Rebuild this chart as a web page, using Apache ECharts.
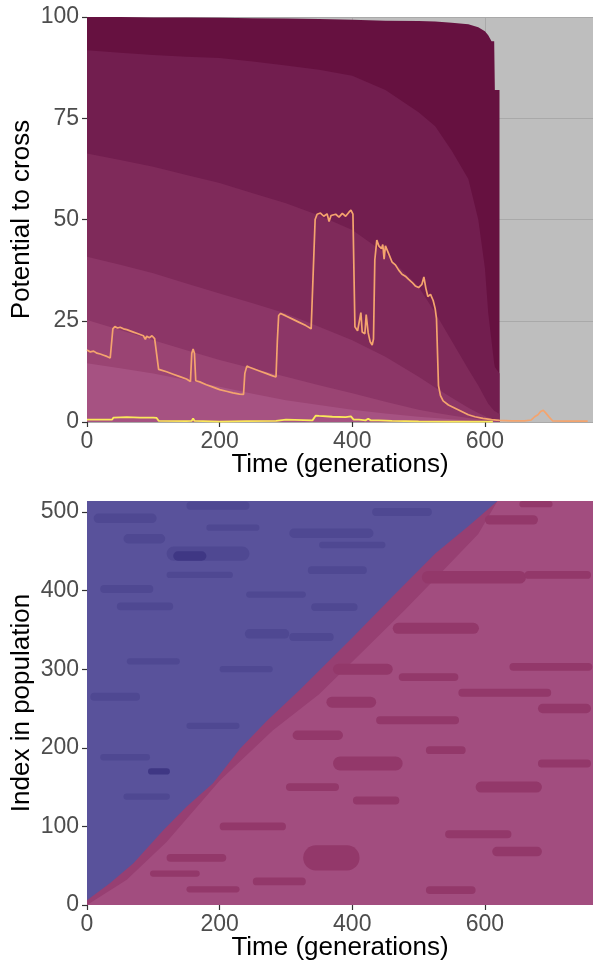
<!DOCTYPE html>
<html><head><meta charset="utf-8">
<script src="https://cdn.jsdelivr.net/npm/echarts@6/dist/echarts.min.js"></script>
<style>html,body{margin:0;padding:0;background:#fff}#c{width:593px;height:969px}</style>
</head><body><div id="c"></div>
<script>
// ---------- top panel data ----------
const bandGens = [0, 50, 100, 150, 200, 250, 300, 350, 400, 450, 500, 525, 550, 575, 590, 600, 605, 610, 614, 615, 622];
const bandTop = [100, 100, 99.9, 99.9, 99.8, 99.7, 99.6, 99.5, 99.3, 99.1, 99.0, 98.9, 98.6, 98.2, 97.5, 96.5, 95.5, 94, 94, 82, 82];
const band1 = [91.8, 91.2, 90.6, 90.2, 89.9, 89.0, 88.0, 87.0, 85.5, 82.0, 76.5, 73.0, 67.0, 60.0, 50.0, 38.0, 27.0, 20.0, 14.5, 13.6, 12.0];
const band2 = [66.3, 64.7, 63.0, 61.0, 59.0, 56.5, 54.0, 51.0, 47.4, 41.6, 33.4, 27.0, 20.0, 13.0, 9.0, 6.0, 4.5, 3.5, 2.8, 2.6, 2.0];
const band3 = [40.8, 38.8, 36.7, 34.2, 31.7, 29.3, 26.8, 23.5, 20.2, 16.1, 11.2, 8.5, 6.0, 3.5, 2.2, 1.5, 1.1, 0.8, 0.6, 0.6, 0.5];
const band4 = [25.2, 22.7, 20.2, 17.7, 15.3, 13.2, 11.2, 9.1, 7.1, 5.0, 3.0, 2.3, 1.6, 1.0, 0.7, 0.5, 0.4, 0.3, 0.2, 0.2, 0.2];
const band5 = [14.5, 13.3, 12.0, 10.4, 8.7, 7.0, 5.4, 4.2, 3.0, 2.1, 1.3, 1.0, 0.7, 0.4, 0.2, 0.1, 0.1, 0.1, 0.1, 0.1, 0.1];
const bandColors = ['#661140', '#721e4f', '#7f2a5a', '#8c3667', '#9a4473', '#a65282'];

const orangeGen = [0,5,10,15,20,25,30,35,38,39,42,46,50,55,60,65,70,75,80,85,88,90,94,98,102,105,108,112,120,130,140,150,156,158,160,162,164,170,180,190,200,210,220,230,236,238,241,245,250,260,270,280,285,287,289,292,300,310,320,330,338,341,344,347,352,357,362,365,368,375,380,385,390,395,398,401,404,408,411,413,415,419,421,424,427,430,432,434,437,440,444,446,448,450,455,460,465,470,475,480,485,490,495,500,505,508,511,514,518,522,525,527,530,533,537,545,555,565,575,585,597,610,622,640,660,670,675,680,684,688,692,697,702,720,740,755];
const orangeVal = [17.8,17.3,17.5,17.0,16.8,16.5,16.2,15.8,15.7,23.0,23.6,23.2,23.4,23.0,22.8,22.5,22.2,21.9,21.6,21.3,20.4,21.2,20.8,21.3,20.6,20.2,13.0,12.8,12.4,11.8,11.2,10.6,10.0,17.0,18.0,17.0,10.2,9.9,9.2,8.6,8.0,7.6,7.2,6.9,6.8,12.0,13.8,13.5,13.2,12.6,12.0,11.4,11.1,20.0,26.3,26.8,26.2,25.4,24.6,23.8,23.0,22.8,50.0,51.3,51.6,50.8,51.4,49.5,51.0,51.3,50.6,51.5,50.8,51.8,52.3,51.3,23.5,22.5,22.8,27.0,22.2,21.8,26.5,22.0,19.8,19.0,20.5,40.0,44.9,43.5,42.8,43.8,40.2,43.5,41.5,39.5,38.8,37.5,36.5,36.0,35.2,34.5,33.6,33.2,34.0,35.8,33.0,31.0,31.5,30.0,28.0,25.5,9.0,6.5,5.2,4.2,3.4,2.6,1.8,1.3,0.9,0.6,0.4,0.3,0.3,0.5,1.3,1.8,2.6,2.9,2.2,1.2,0.3,0.2,0.2,0.2];
const yellowGen = [0,38,40,60,80,100,105,108,150,158,160,162,200,240,285,288,300,340,345,350,370,390,398,402,410,420,424,428,440,460,500,550,600,612];
const yellowVal = [0.6,0.6,1.1,1.2,1.1,1.1,1.0,0.3,0.2,0.3,0.9,0.3,0.1,0.2,0.3,0.7,0.6,0.4,1.6,1.5,1.3,1.2,1.4,0.6,0.6,0.4,0.8,0.4,0.4,0.3,0.15,0.1,0.1,0.1];

const xTicks = [0, 200, 400, 600];
const yTicksTop = [0, 25, 50, 75, 100];
const yTicksBottom = [0, 100, 200, 300, 400, 500];

// ---------- bottom panel data ----------
const boundaryGen = [0, 35, 70, 115, 150, 190, 231, 271, 321, 400, 460, 526, 575, 619, 763];
const boundaryIdx = [6, 28, 53, 95, 125, 155, 199, 234, 274, 340, 392, 448, 482, 514, 514];
const stripeGen = [0, 60, 120, 200, 280, 350, 420, 480, 540, 590, 619, 763];
const stripeIdx = [0, 32, 80, 158, 222, 268, 326, 376, 428, 472, 514, 514];
// patches: [startGen, endGen, centreIndex, halfHeight]
const bluePatches = [[120,245,447,9],[10,105,492,6],[55,118,466,6],[150,245,508,5],[20,100,402,5],[45,130,380,5],[238,305,345,6],[120,220,420,4],[5,80,265,5],[55,125,138,4],[20,95,188,4],[305,432,473,6],[333,422,426,5],[338,408,379,5],[350,450,458,4],[305,372,341,5],[430,520,500,5],[200,280,300,4],[150,230,228,4],[60,140,310,4],[240,330,395,4],[180,260,480,4]];
const blueDark = [[130,180,444,6],[92,125,170,4]];
const pinkPatches = [[120,210,60,5],[95,170,40,4],[371,461,300,7],[461,591,352,7],[505,662,417,8],[600,680,490,6],[652,702,510,4],[637,762,303,5],[361,436,258,7],[436,561,235,5],[371,476,180,9],[511,571,197,5],[326,411,60,16],[586,686,150,7],[611,686,68,6],[511,586,19,5],[401,471,133,5],[310,386,216,6],[200,300,100,5],[250,330,30,5],[150,230,20,4],[660,760,420,5],[680,760,250,6],[540,640,90,5],[560,700,270,5],[470,560,290,5],[300,380,150,5],[680,760,180,5]];

const zip = (a, b) => a.map((v, i) => [v, b[i]]);
const FONT = 'Liberation Sans, Arial, Helvetica, sans-serif';

function patchSeries(data, color, gi) {
  return {
    type: 'custom', xAxisIndex: gi, yAxisIndex: gi, data: data, clip: true, z: 5,
    encode: { x: [0, 1], y: 2 }, silent: true,
    renderItem: function (params, api) {
      const t0 = api.value(0), t1 = api.value(1), c = api.value(2), h = api.value(3);
      const p0 = api.coord([t0, c + h]);
      const p1 = api.coord([t1, c - h]);
      const w = p1[0] - p0[0], ht = p1[1] - p0[1];
      return { type: 'rect', shape: { x: p0[0], y: p0[1], width: w, height: ht, r: ht / 2 }, style: { fill: color } };
    }
  };
}

function xAxisDef(gi) {
  return {
    type: 'value', gridIndex: gi, min: 0, max: 763, interval: 100,
    name: 'Time (generations)', nameLocation: 'middle', nameGap: 30, nameMoveOverlap: false,
    nameTextStyle: { fontFamily: FONT, fontSize: 26, color: '#000' },
    axisLine: { show: false },
    axisTick: { show: true, length: 5, customValues: xTicks, lineStyle: { color: '#333', width: 1.2 } },
    axisLabel: { customValues: xTicks, fontFamily: FONT, fontSize: 23, color: '#4d4d4d', margin: 8 },
    splitLine: { show: gi === 0, lineStyle: { color: '#a9a9a9', width: 1 } },
    minorTick: { show: false },
    minorSplitLine: { show: false }
  };
}

function yAxisDef(gi, name, max, interval, ticks, grid) {
  return {
    type: 'value', gridIndex: gi, min: 0, max: max, interval: interval,
    name: name, nameLocation: 'middle', nameGap: 52, nameMoveOverlap: false,
    nameTextStyle: { fontFamily: FONT, fontSize: 26, color: '#000' },
    axisLine: { show: false },
    axisTick: { show: true, length: 5, customValues: ticks, lineStyle: { color: '#333', width: 1.2 } },
    axisLabel: { customValues: ticks, fontFamily: FONT, fontSize: 23, color: '#4d4d4d', margin: 8 },
    splitLine: { show: grid, lineStyle: { color: '#a9a9a9', width: 1 } }
  };
}

const bandArrays = [bandTop, band1, band2, band3, band4, band5];
const series = [];
bandArrays.forEach((arr, i) => {
  series.push({
    type: 'line', xAxisIndex: 0, yAxisIndex: 0, data: zip(bandGens, arr),
    showSymbol: false, symbol: 'none', silent: true,
    lineStyle: { width: 0 }, areaStyle: { color: bandColors[i], opacity: 1, origin: 'start' },
    z: 2 + i * 0.01
  });
});
series.push({ type: 'line', xAxisIndex: 0, yAxisIndex: 0, data: zip(orangeGen, orangeVal), showSymbol: false, symbol: 'none', lineStyle: { color: '#f4a46e', width: 1.7 }, z: 4 });
series.push({ type: 'line', xAxisIndex: 0, yAxisIndex: 0, data: zip(yellowGen, yellowVal), showSymbol: false, symbol: 'none', lineStyle: { color: '#fbe95a', width: 1.8 }, z: 4.1 });

series.push({ type: 'line', xAxisIndex: 1, yAxisIndex: 1, data: zip(boundaryGen, boundaryIdx), showSymbol: false, symbol: 'none', silent: true, lineStyle: { width: 0 }, areaStyle: { color: '#973f72', opacity: 1, origin: 'start' }, z: 2 });
series.push({ type: 'line', xAxisIndex: 1, yAxisIndex: 1, data: zip(stripeGen, stripeIdx), showSymbol: false, symbol: 'none', silent: true, lineStyle: { width: 0 }, areaStyle: { color: '#a24d7f', opacity: 1, origin: 'start' }, z: 2.1 });
series.push(patchSeries(bluePatches, '#4f4892', 1));
series.push(patchSeries(blueDark, '#3f3784', 1));
series.push(patchSeries(pinkPatches, '#93386a', 1));

const option = {
  animation: false,
  backgroundColor: '#ffffff',
  grid: [
    { left: 87, top: 17, width: 506, height: 405, show: true, backgroundColor: '#bebebe', borderWidth: 0, outerBoundsMode: 'none', containLabel: false },
    { left: 87, top: 501, width: 506, height: 404, show: true, backgroundColor: '#59529b', borderWidth: 0, outerBoundsMode: 'none', containLabel: false }
  ],
  xAxis: [xAxisDef(0), xAxisDef(1)],
  yAxis: [
    yAxisDef(0, 'Potential to cross', 100, 12.5, yTicksTop, true),
    yAxisDef(1, 'Index in population', 514, 100, yTicksBottom, false)
  ],
  series: series
};
const chart = echarts.init(document.getElementById('c'), null, { renderer: 'canvas' });
chart.setOption(option);
</script></body></html>
